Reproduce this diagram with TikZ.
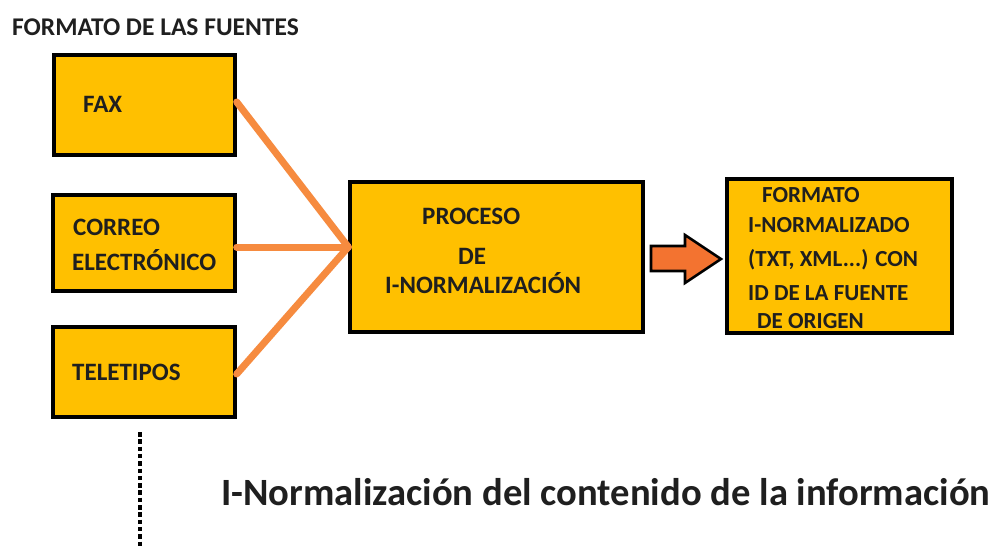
\documentclass[tikz,border=0pt]{standalone}
\usepackage{fontspec}
\setmainfont{Carlito}
\begin{document}
\begin{tikzpicture}[x=1pt,y=-1pt,
  box/.style={draw=black,line width=3.4pt,fill=boxgold,inner sep=0pt},
  lbl/.style={font=\bfseries\fontsize{25}{30}\selectfont,text=black!88,inner sep=0pt,anchor=base west},
  olbl/.style={lbl,font=\bfseries\fontsize{23}{28}\selectfont},
  feed/.style={draw=feedorange,line width=7pt,line cap=round}]
\definecolor{boxgold}{HTML}{FFC000}
\definecolor{feedorange}{HTML}{F68B3F}
\definecolor{arroworange}{HTML}{F37330}
\useasboundingbox (0,0) rectangle (998,548);
\fill[white] (0,0) rectangle (998,548);
% title
\node[lbl,font=\bfseries\fontsize{25.5}{30}\selectfont] (title) at (12,35.5) {FORMATO DE LAS FUENTES};
% boxes
\node[box,minimum width=181pt,minimum height=100pt] (fax) at (144.5,105) {};
\node[box,minimum width=182pt,minimum height=96pt] (correo) at (144,243) {};
\node[box,minimum width=182pt,minimum height=90pt] (tele) at (144,372) {};
\node[box,minimum width=293pt,minimum height=150pt] (proc) at (496.5,257) {};
\node[box,minimum width=225pt,minimum height=154pt] (out) at (839.5,256) {};
% texts
\node[lbl] (tfax) at (83,113) {FAX};
\node[lbl] (tcorreo) at (73,235) {CORREO};
\node[lbl] (telec) at (72,270) {ELECTRÓNICO};
\node[lbl] (ttele) at (72,380) {TELETIPOS};
\node[lbl] (tp1) at (422,225) {PROCESO};
\node[lbl] (tp2) at (458,264) {DE};
\node[lbl] (tp3) at (385,293) {I-NORMALIZACIÓN};
\node[olbl] (to1) at (762,203) {FORMATO};
\node[olbl] (to2) at (748,233) {I-NORMALIZADO};
\node[olbl] (to3) at (748,266) {(TXT, XML...) CON};
\node[olbl] (to4) at (748,300) {ID DE LA FUENTE};
\node[olbl] (to5) at (757,328) {DE ORIGEN};
% feed lines
\coordinate (hub) at (proc.west |- 0,247);
\draw[feed] (fax.east |- 0,102) -- (hub);
\draw[feed] (correo.east |- 0,247) -- (hub);
\draw[feed] (tele.east |- 0,374) -- (hub);
% block arrow
\draw[line width=2.6pt,fill=arroworange,line join=miter]
  (651,246) -- (685,246) -- (685,235) -- (721,259) -- (685,283) -- (685,271) -- (651,271) -- cycle;
\coordinate (dtop) at (140,432);
\coordinate (dbot) at (140,548);
\draw[line width=3.2pt,dash pattern=on 4.5pt off 2.8pt] (dtop) -- (dbot);
% caption
\node[inner sep=0pt,anchor=base west,font=\bfseries\fontsize{38.6}{44}\selectfont,text=black!88] (cap) at (221,505) {I-Normalización del contenido de la información};
\end{tikzpicture}
\end{document}
